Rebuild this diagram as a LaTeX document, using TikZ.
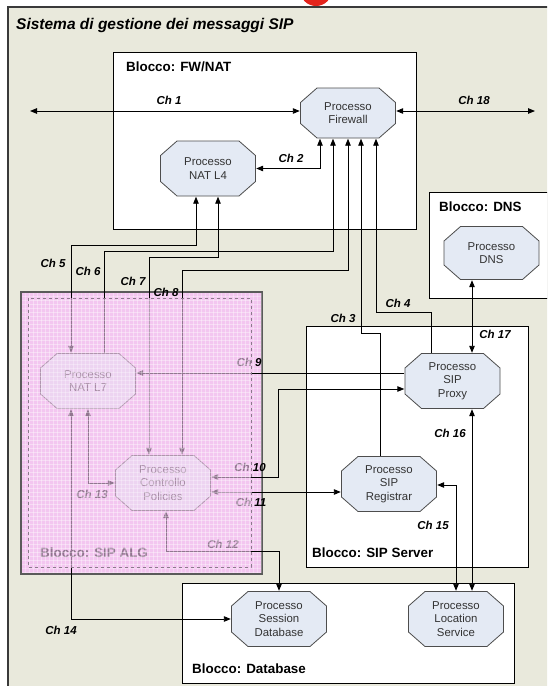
\documentclass[tikz,border=0pt]{standalone}
\usepackage{fontspec}
\setmainfont{Liberation Sans}
\usepackage{tikz}
\usepackage{xcolor}
\usetikzlibrary{arrows.meta,positioning,calc,shadows}
\definecolor{framebg}{HTML}{E9E9DC}
\definecolor{framedraw}{HTML}{3A3A3A}
\definecolor{octfill}{HTML}{E4EAF4}
\definecolor{octdraw}{HTML}{4D4D4D}
\definecolor{octtext}{HTML}{333333}
\definecolor{algpink}{HTML}{F3C6F0}
\definecolor{algdraw}{HTML}{5A5A5A}
\definecolor{algdash}{HTML}{8C7A8C}
\definecolor{redmark}{HTML}{E3241C}
\tikzset{
  block/.style={draw=black, fill=white, line width=0.9pt, inner sep=0pt, outer sep=0pt,
                anchor=north west, drop shadow={shadow xshift=1.3pt, shadow yshift=-1.3pt, opacity=0.6}},
  algblock/.style={draw=algdraw, fill=algpink, line width=1.2pt, inner sep=0pt, outer sep=0pt,
                   anchor=north west},
  blocklabel/.style={anchor=base west, inner sep=0pt, font=\fontsize{13.4}{16}\selectfont\bfseries},
  chlabel/.style={inner sep=0pt, font=\fontsize{11.5}{13}\selectfont\bfseries\itshape},
  gridline/.style={draw=white, opacity=0.3, line width=0.5pt},
  octa/.style={rectangle, minimum width=96pt, minimum height=56pt, inner sep=1pt, align=center,
               text=octtext, font=\fontsize{11.4}{13.6}\selectfont,
               path picture={
                 \path[fill=octfill, draw=octdraw, line width=0.8pt]
                   ([shift={(17pt,-.5pt)}]path picture bounding box.north west)
                   -- ([shift={(-17pt,-.5pt)}]path picture bounding box.north east)
                   -- ([shift={(-.5pt,-15pt)}]path picture bounding box.north east)
                   -- ([shift={(-.5pt,15pt)}]path picture bounding box.south east)
                   -- ([shift={(-17pt,.5pt)}]path picture bounding box.south east)
                   -- ([shift={(17pt,.5pt)}]path picture bounding box.south west)
                   -- ([shift={(.5pt,15pt)}]path picture bounding box.south west)
                   -- ([shift={(.5pt,-15pt)}]path picture bounding box.north west) -- cycle;
               }},
  arrow/.style={-{Triangle[length=7pt,width=5.5pt]}, line width=0.9pt, draw=black},
  biarrow/.style={{Triangle[length=7pt,width=5.5pt]}-{Triangle[length=7pt,width=5.5pt]},
                  line width=0.9pt, draw=black}
}

\begin{document}
\begin{tikzpicture}[x=1pt, y=-1pt]
  \useasboundingbox (0,0) rectangle (547,686);
  \clip (0,0) rectangle (547,686);
  \fill[white] (0,0) rectangle (547,686);
  \fill[redmark] (316,-10) circle (16);
  \draw[framedraw, fill=framebg, line width=1.3pt] (8,7) rectangle (560,700);
  \node[anchor=base west, inner sep=0pt, font=\fontsize{15.5}{18}\selectfont\bfseries\itshape]
    (title) at (16,29) {Sistema di gestione dei messaggi SIP};

  % blocchi
  \node[block, minimum width=303pt, minimum height=177pt] (fwnat) at (113,52) {};
  \node[block, minimum width=140pt, minimum height=106pt] (dnsblk) at (429,192) {};
  \node[block, minimum width=222pt, minimum height=241pt] (srvblk) at (306,326) {};
  \node[block, minimum width=332pt, minimum height=100pt] (dbblk) at (182,583) {};
  \node[algblock, minimum width=241pt, minimum height=282pt] (algblk) at (21,292) {};
  \foreach \gx in {25,29,...,261} {
    \draw[gridline] (\gx,293) -- (\gx,573);
  }
  \foreach \gy in {296,300,...,572} {
    \draw[gridline] (22,\gy) -- (261,\gy);
  }
  \node[blocklabel] (fwnatlbl) at (126,71.5) {Blocco: FW/NAT};
  \node[blocklabel] (dnslbl) at (439,211) {Blocco: DNS};
  \node[blocklabel] (srvlbl) at (312,557) {Blocco: SIP Server};
  \node[blocklabel] (dblbl) at (192,673) {Blocco: Database};
  \node[blocklabel] (alglbl) at (40,557) {Blocco: SIP ALG};

  % processi
  \node[octa, minimum height=51pt] (fw) at (348,113) {Processo\\Firewall};
  \node[octa] (natf) at (208,168.5) {Processo\\NAT L4};
  \node[octa, minimum height=54pt] (dns) at (491.5,253) {Processo\\DNS};
  \node[octa] (natl) at (88,381) {Processo\\NAT L7};
  \node[octa] (pol) at (163,483) {Processo\\Controllo\\Policies};
  \node[octa] (proxy) at (452.5,381) {Processo\\SIP\\Proxy};
  \node[octa] (reg) at (389,484) {Processo\\SIP\\Registrar};
  \node[octa] (sdb) at (279,619) {Processo\\Session\\Database};
  \node[octa] (loc) at (456,619) {Processo\\Location\\Service};

  % canali
  \coordinate (c1) at (30,111);
  \coordinate (c18) at (535,111);
  \draw[biarrow] (c1) -- (c1 -| fw.west);
  \draw[biarrow] (c18) -- (c18 -| fw.east);
  \draw[biarrow] ([xshift=-28pt]fw.south) |- (natf.east);
  \draw[arrow] ([xshift=-9pt]reg.north) -- ++(0,-122) -| ([xshift=13pt]fw.south);
  \draw[arrow] ([xshift=-21pt]proxy.north) -- ++(0,-40) -| ([xshift=28pt]fw.south);
  \draw[biarrow] ([xshift=-17pt]natl.north) -- ++(0,-107) -| ([xshift=-12pt]natf.south);
  \draw[arrow] ([xshift=16pt]natl.north) -- ++(0,-101) -| ([xshift=-15pt]fw.south);
  \draw[biarrow] ([xshift=-14pt]pol.north) -- ++(0,-197) -| ([xshift=10pt]natf.south);
  \draw[biarrow] ([xshift=19pt]pol.north) -- ++(0,-184) -| (fw.south);
  \draw[arrow] ([yshift=8pt]proxy.west) -- ([yshift=8pt]natl.east);
  \draw[biarrow] ([yshift=-8pt]proxy.west) -- ++(-125.5,0) |- ([yshift=6pt]pol.east);
  \draw[biarrow] ([yshift=-9pt]pol.east) -- ([yshift=-8pt]reg.west);
  \draw[biarrow] ([xshift=3pt]pol.south) -- ++(0,40) -| (sdb.north);
  \draw[biarrow] (natl.south) |- (pol.west);
  \draw[biarrow] ([xshift=-17pt]natl.south) |- (sdb.west);
  \draw[biarrow] ([yshift=-1pt]reg.east) -| (loc.north);
  \draw[biarrow] ([xshift=19.5pt]proxy.south) -- ([xshift=16pt]loc.north);
  \draw[biarrow] ([xshift=-19.5pt]dns.south) -- ([xshift=19.5pt]proxy.north);

  \node[chlabel] (l1) at (169,100) {Ch 1};
  \node[chlabel] (l2) at (291,158) {Ch 2};
  \node[chlabel] (l3) at (343,318) {Ch 3};
  \node[chlabel] (l4) at (398,303) {Ch 4};
  \node[chlabel] (l5) at (53,263) {Ch 5};
  \node[chlabel] (l6) at (88,271) {Ch 6};
  \node[chlabel] (l7) at (133,281) {Ch 7};
  \node[chlabel] (l8) at (166,292) {Ch 8};
  \node[chlabel] (l9) at (249,362) {Ch 9};
  \node[chlabel] (l10) at (250,467) {Ch 10};
  \node[chlabel] (l11) at (251,502) {Ch 11};
  \node[chlabel] (l12) at (223,544) {Ch 12};
  \node[chlabel] (l13) at (92,494) {Ch 13};
  \node[chlabel] (l14) at (61,630) {Ch 14};
  \node[chlabel] (l15) at (433,525) {Ch 15};
  \node[chlabel] (l16) at (450,433) {Ch 16};
  \node[chlabel] (l17) at (495,334) {Ch 17};
  \node[chlabel] (l18) at (474,100) {Ch 18};

  % velatura del blocco SIP ALG
  \begin{scope}
    \clip (28,298) rectangle (251,567);
    \fill[algpink, opacity=0.6] (28,298) rectangle (251,567);
    \foreach \gx in {29,33,...,251} {
      \draw[gridline] (\gx,298) -- (\gx,567);
    }
    \foreach \gy in {300,304,...,567} {
      \draw[gridline] (28,\gy) -- (251,\gy);
    }
  \end{scope}
  \draw[algdash, dashed, line width=0.7pt] (28,298) rectangle (251,567);
\end{tikzpicture}
\end{document}
